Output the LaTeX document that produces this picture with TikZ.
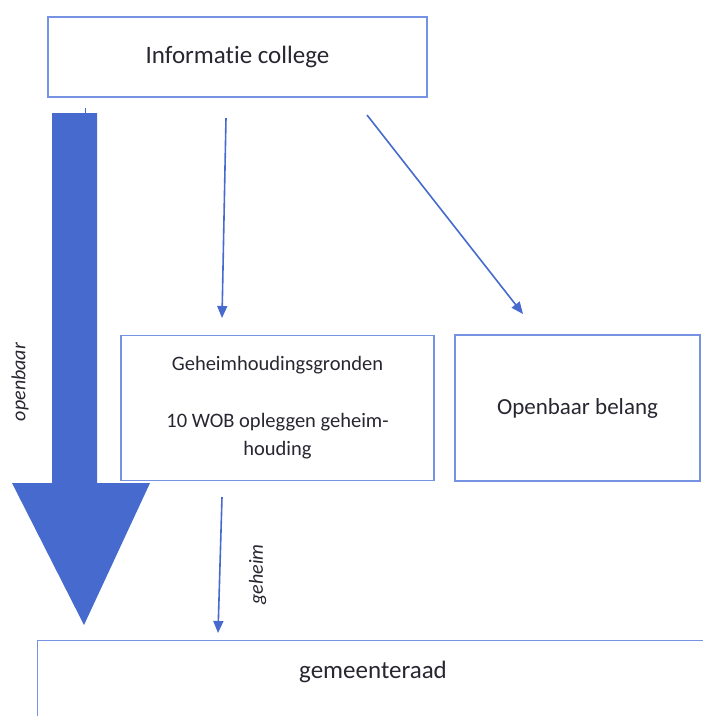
\documentclass[tikz,border=0pt]{standalone}
\usepackage{fontspec}
\setmainfont{Carlito}[Ligatures=NoCommon]
\usepackage{tikz}
\usetikzlibrary{arrows.meta,positioning}
\definecolor{boxblue}{RGB}{118,146,226}
\definecolor{arrowblue}{RGB}{70,106,206}
\definecolor{inkgray}{RGB}{40,38,48}
\tikzstyle{block} = [draw=boxblue, line width=1.3pt, rectangle, text=inkgray, align=center]
\tikzstyle{link} = [draw=arrowblue, line width=1.6pt, ->]
\tikzstyle{side} = [text=inkgray, font=\fontsize{20}{24}\selectfont\itshape, rotate=90]

\begin{document}
\begin{tikzpicture}[x=1pt, y=-1pt, >={Triangle[length=12pt,width=10pt]}]

\useasboundingbox (0,0) rectangle (703,716);

\node [block, minimum width=379pt, minimum height=80pt, font=\fontsize{25}{30}\selectfont] (college) at (237.5,57) {Informatie college};
\node [block, below of=college, node distance=351pt, xshift=40pt, minimum width=313pt, minimum height=145pt, font=\fontsize{20.5}{28}\selectfont] (gronden) {Geheimhoudingsgronden\\[29pt]10 WOB opleggen geheim-\\houding};
\node [block, right of=gronden, node distance=300pt, minimum width=245pt, minimum height=146pt, font=\fontsize{23}{28}\selectfont] (belang) {Openbaar belang};
\node [block, anchor=north west, minimum width=720pt, minimum height=120pt] (raad) at (37,640) {};
\node [text=inkgray, font=\fontsize{25}{30}\selectfont] (raadtekst) at (373,672) {gemeenteraad};

% brede pijl openbaar
\fill [arrowblue] (52,113) -- (97,113) -- (97,483) -- (150,483) -- (84,625) -- (12,483) -- (52,483) -- cycle;
\draw [arrowblue, line width=1pt] (85,108) -- (85,113);
\node [side] (openbaar) at (20,382) {openbaar};

\coordinate (c1) at (226,118);
\coordinate (c2) at (222,318);
\coordinate (c3) at (367,115);
\coordinate (c4) at (523,314);
\coordinate (c5) at (222,497);
\coordinate (c6) at (218,633);

\draw [link] (c1) -- (c2);
\draw [link] (c3) -- (c4);
\draw [link] (c5) -- node [side, pos=0.57, yshift=-38pt] (geheim) {geheim} (c6);

\end{tikzpicture}
\end{document}
